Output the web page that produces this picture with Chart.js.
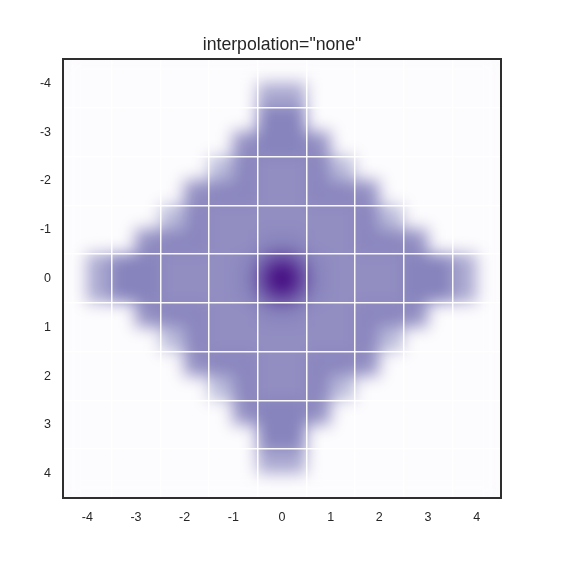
<!DOCTYPE html>
<html>
<head>
<meta charset="utf-8">
<script src="https://cdn.jsdelivr.net/npm/chart.js@4.4.1/dist/chart.umd.min.js"></script>
<style>
  html, body { margin: 0; padding: 0; background: #fff; }
</style>
</head>
<body>
<canvas id="chart" width="573" height="568"></canvas>
<script>
'use strict';

// axis ticks and the white grid between cells
const tickValues = [-4, -3, -2, -1, 0, 1, 2, 3, 4];
const gridValues = [-3.5, -2.5, -1.5, -0.5, 0.5, 1.5, 2.5, 3.5];

// half-cell centres (same list for x and y)
const cellCenters = [-4.25, -3.75, -3.25, -2.75, -2.25, -1.75, -1.25, -0.75, -0.25,
                      0.25,  0.75,  1.25,  1.75,  2.25,  2.75,  3.25,  3.75,  4.25];

// values, one row per half-cell, top (y = -4.25) to bottom
const cellValues = [
  [0, 0, 0, 0, 0, 0, 0, 0, 0, 0, 0, 0, 0, 0, 0, 0, 0, 0],
  [0, 0, 0, 0, 0, 0, 0, 0, .45, .45, 0, 0, 0, 0, 0, 0, 0, 0],
  [0, 0, 0, 0, 0, 0, 0, 0, .6, .6, 0, 0, 0, 0, 0, 0, 0, 0],
  [0, 0, 0, 0, 0, 0, 0, .55, .6, .6, .55, 0, 0, 0, 0, 0, 0, 0],
  [0, 0, 0, 0, 0, 0, .38, .58, .55, .55, .58, .38, 0, 0, 0, 0, 0, 0],
  [0, 0, 0, 0, 0, .55, .58, .58, .55, .55, .58, .58, .55, 0, 0, 0, 0, 0],
  [0, 0, 0, 0, .38, .58, .55, .55, .55, .55, .55, .55, .58, .38, 0, 0, 0, 0],
  [0, 0, 0, .55, .58, .58, .55, .55, .57, .57, .55, .55, .58, .58, .55, 0, 0, 0],
  [0, .45, .6, .6, .55, .55, .55, .57, .62, .62, .57, .55, .55, .55, .6, .6, .45, 0],
  [0, .45, .6, .6, .55, .55, .55, .57, .62, .62, .57, .55, .55, .55, .6, .6, .45, 0],
  [0, 0, 0, .55, .58, .58, .55, .55, .57, .57, .55, .55, .58, .58, .55, 0, 0, 0],
  [0, 0, 0, 0, .38, .58, .55, .55, .55, .55, .55, .55, .58, .38, 0, 0, 0, 0],
  [0, 0, 0, 0, 0, .55, .58, .58, .55, .55, .58, .58, .55, 0, 0, 0, 0, 0],
  [0, 0, 0, 0, 0, 0, .38, .58, .55, .55, .58, .38, 0, 0, 0, 0, 0, 0],
  [0, 0, 0, 0, 0, 0, 0, .55, .6, .6, .55, 0, 0, 0, 0, 0, 0, 0],
  [0, 0, 0, 0, 0, 0, 0, 0, .6, .6, 0, 0, 0, 0, 0, 0, 0, 0],
  [0, 0, 0, 0, 0, 0, 0, 0, .45, .45, 0, 0, 0, 0, 0, 0, 0, 0],
  [0, 0, 0, 0, 0, 0, 0, 0, 0, 0, 0, 0, 0, 0, 0, 0, 0, 0]
];

// the dark peak in the middle
const peakX = [0];
const peakY = [0];
const peakValue = [1.0];

const TEXT = '#262626';
const FONT = "'Liberation Sans', Arial, sans-serif";

// matplotlib "Purples"
const PURPLES = [
  [252, 251, 253], [239, 237, 245], [218, 218, 235], [188, 189, 220], [158, 154, 200],
  [128, 125, 186], [106, 81, 163], [84, 39, 143], [63, 0, 125]
];

function purples(v, a = 1) {
  const t = Math.max(0, Math.min(1, v)) * (PURPLES.length - 1);
  const i = Math.min(Math.floor(t), PURPLES.length - 2);
  const f = t - i;
  const c = PURPLES[i].map((x, k) => Math.round(x + (PURPLES[i + 1][k] - x) * f));
  return `rgba(${c[0]},${c[1]},${c[2]},${a})`;
}

const cellPoints = [];
cellValues.forEach((row, r) => row.forEach((v, c) => {
  cellPoints.push({ x: cellCenters[c], y: cellCenters[r], v });
}));
const peakPoints = peakX.map((x, i) => ({ x, y: peakY[i], v: peakValue[i] }));

const unitPx = chart => Math.abs(chart.scales.x.getPixelForValue(1) - chart.scales.x.getPixelForValue(0));
const PEAK_R = 0.88;

function peakFill(c) {
  const chart = c.chart;
  if (!chart.chartArea || !c.raw) return purples(1);
  const px = chart.scales.x.getPixelForValue(c.raw.x);
  const py = chart.scales.y.getPixelForValue(c.raw.y);
  const r = PEAK_R * unitPx(chart);
  const g = chart.ctx.createRadialGradient(px, py, 0, px, py, r);
  g.addColorStop(0, purples(c.raw.v));
  g.addColorStop(0.14, purples(c.raw.v * 0.98));
  g.addColorStop(0.38, purples(c.raw.v * 0.85, 0.95));
  g.addColorStop(0.66, purples(c.raw.v * 0.7, 0.6));
  g.addColorStop(1, purples(0.6, 0));
  return g;
}

// smooth the cells like the image resampling in the reference
const softenPlugin = {
  id: 'soften',
  afterDatasetsDraw(chart) {
    const { ctx, canvas, chartArea: a } = chart;
    const l = Math.round(a.left), t = Math.round(a.top);
    const w = Math.round(a.right - a.left), h = Math.round(a.bottom - a.top);
    const off = document.createElement('canvas');
    off.width = w; off.height = h;
    off.getContext('2d').drawImage(canvas, l, t, w, h, 0, 0, w, h);
    ctx.save();
    ctx.beginPath(); ctx.rect(l, t, w, h); ctx.clip();
    ctx.fillStyle = purples(0);
    ctx.fillRect(l, t, w, h);
    ctx.filter = 'blur(8px)';
    ctx.drawImage(off, l, t);
    ctx.restore();
  }
};

const setTicks = list => axis => { axis.ticks = list.map(v => ({ value: v })); };
const frame = { display: true, color: '#2e2e2e', width: 2, z: 2 };

new Chart(document.getElementById('chart'), {
  type: 'scatter',
  data: {
    datasets: [
      {
        label: 'peak',
        data: peakPoints,
        order: 0,
        clip: 0,
        pointStyle: 'circle',
        pointRadius: c => PEAK_R * unitPx(c.chart),
        pointBackgroundColor: peakFill,
        pointBorderWidth: 0
      },
      {
        label: 'cells',
        data: cellPoints,
        order: 1,
        clip: 0,
        pointStyle: 'rect',
        pointRadius: c => (unitPx(c.chart) / 4) / Math.SQRT1_2 + 0.6,
        pointBackgroundColor: c => purples(c.raw ? c.raw.v : 0),
        pointBorderWidth: 0
      }
    ]
  },
  options: {
    responsive: false,
    animation: false,
    events: [],
    devicePixelRatio: 1,
    layout: { padding: { left: 0, right: 72, top: 34, bottom: 0 } },
    plugins: {
      legend: { display: false },
      tooltip: { enabled: false },
      title: {
        display: true,
        fullSize: false,
        text: 'interpolation="none"',
        color: TEXT,
        font: { family: FONT, size: 17.7, weight: 'normal' },
        padding: { top: 0, bottom: 3.8 }
      }
    },
    scales: {
      x: {
        type: 'linear', position: 'bottom', min: -4.5, max: 4.5,
        afterBuildTicks: setTicks(tickValues),
        afterFit: s => { s.height = 70; },
        grid: { display: false, drawTicks: false },
        border: frame,
        ticks: { color: TEXT, font: { family: FONT, size: 12.5 }, padding: 12, maxRotation: 0 }
      },
      y: {
        type: 'linear', position: 'left', min: -4.5, max: 4.5, reverse: true,
        afterBuildTicks: setTicks(tickValues),
        afterFit: s => { s.width = 63; },
        grid: { display: false, drawTicks: false },
        border: frame,
        ticks: { color: TEXT, font: { family: FONT, size: 12.5 }, padding: 12 }
      },
      xGrid: {
        type: 'linear', position: 'top', min: -4.5, max: 4.5,
        afterBuildTicks: setTicks(gridValues),
        afterFit: s => { s.height = 0; },
        grid: { color: 'rgba(255,255,255,0.95)', lineWidth: 1.5, drawTicks: false, z: 1 },
        border: frame,
        ticks: { display: false }
      },
      yGrid: {
        type: 'linear', position: 'right', min: -4.5, max: 4.5, reverse: true,
        afterBuildTicks: setTicks(gridValues),
        afterFit: s => { s.width = 0; },
        grid: { color: 'rgba(255,255,255,0.95)', lineWidth: 1.5, drawTicks: false, z: 1 },
        border: frame,
        ticks: { display: false }
      }
    }
  },
  plugins: [softenPlugin]
});
</script>
</body>
</html>
